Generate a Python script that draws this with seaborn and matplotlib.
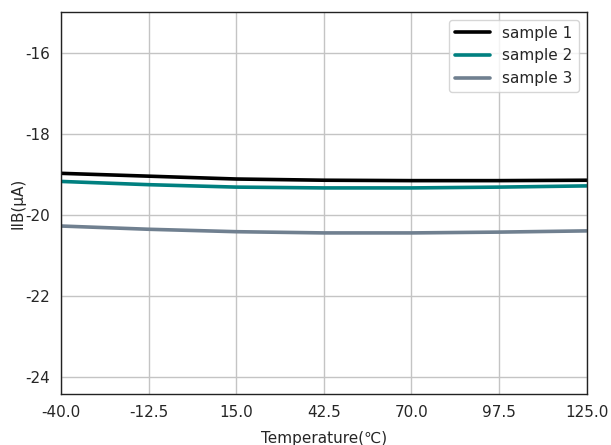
import numpy as np
import pandas as pd
import seaborn as sns
import matplotlib
matplotlib.use("Agg")
import matplotlib.pyplot as plt

# values
temperature = [-40.0, -12.5, 15.0, 42.5, 70.0, 97.5, 125.0]
sample_1 = [-18.98, -19.05, -19.12, -19.15, -19.16, -19.16, -19.15]
sample_2 = [-19.18, -19.26, -19.32, -19.34, -19.34, -19.32, -19.29]
sample_3 = [-20.28, -20.36, -20.42, -20.45, -20.45, -20.43, -20.40]
series_names = ["sample 1", "sample 2", "sample 3"]
colors = ["#000000", "#008080", "#708090"]
x_ticks = [-40.0, -12.5, 15.0, 42.5, 70.0, 97.5, 125.0]
y_ticks = [-16, -18, -20, -22, -24]

df = pd.DataFrame({"Temperature": temperature * 3,
                   "IIB": sample_1 + sample_2 + sample_3,
                   "series": [n for n in series_names for _ in temperature]})

sns.set_style("white")
fig, ax = plt.subplots(figsize=(6.11, 4.45), dpi=100)
sns.lineplot(data=df, x="Temperature", y="IIB", hue="series",
             palette=colors, linewidth=2.6, ax=ax)

ax.set_xlim(-40, 125)
ax.set_ylim(-24.42, -15.0)
ax.set_xticks(x_ticks)
ax.set_xticklabels([f"{t:.1f}" for t in x_ticks])
ax.set_yticks(y_ticks)
ax.set_yticklabels([str(t) for t in y_ticks])
ax.grid(True, color="#c4c4c4", linewidth=1)
ax.tick_params(axis="both", labelsize=11, length=0, pad=8)
for s in ax.spines.values():
    s.set_color("#222222")
    s.set_linewidth(1)
ax.set_xlabel("Temperature(℃)", fontsize=11, labelpad=8)
ax.set_ylabel("IIB(μA)", fontsize=11, labelpad=0)
ax.legend(loc="upper right", fontsize=11, frameon=True, handlelength=2.3)

plt.subplots_adjust(left=0.1, right=0.96, top=0.973, bottom=0.115)
plt.savefig("out.png", dpi=100)
